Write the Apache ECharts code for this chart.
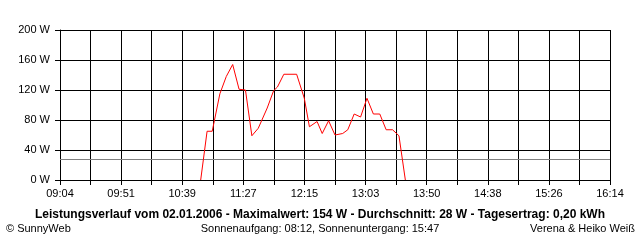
<!DOCTYPE html>
<html><head><meta charset="utf-8">
<script src="https://cdn.jsdelivr.net/npm/echarts@6/dist/echarts.min.js"></script>
<style>html,body{margin:0;padding:0;background:#fff}#c{width:640px;height:240px}</style>
</head><body><div id="c"></div>
<script>
// Data
const times = ["10:54","10:59","11:03","11:09","11:14","11:19","11:24","11:29","11:34","11:39","11:46","11:51","11:54","11:59","12:09","12:15","12:19","12:25","12:29","12:34","12:39","12:45","12:49","12:54","12:59","13:04","13:09","13:14","13:19","13:24","13:29","13:34"];
const watts = [0,65,65,115,138,154,121,120,59,69,96,119,124,141,141,109,71,78,62,79,60,62,67,88,84,109,88,88,67,67,59,0];
const xTickLabels = ["09:04","09:51","10:39","11:27","12:15","13:03","13:50","14:38","15:26","16:14"];
const average = 28;
const titleText = "Leistungsverlauf vom 02.01.2006 - Maximalwert: 154 W - Durchschnitt: 28 W - Tagesertrag: 0,20 kWh";
const leftText = "\u00A9 SunnyWeb";
const midText = "Sonnenaufgang: 08:12, Sonnenuntergang: 15:47";
const rightText = "Verena & Heiko Wei\u00DF";

const startMin = 9*60+4, endMin = 16*60+14, columns = 18;
const colWidth = (endMin - startMin) / columns;
function toCol(t){const p=t.split(':');return (parseInt(p[0])*60+parseInt(p[1])-startMin)/colWidth;}
const seriesData = times.map((t,i)=>[toCol(t), watts[i]]);

const font = "'Liberation Sans', Arial, sans-serif";
const chart = echarts.init(document.getElementById('c'), null, {renderer:'canvas'});
chart.setOption({
  animation:false,
  backgroundColor:'#fff',
  grid:{left:60,right:30,top:30,bottom:60},
  xAxis:{type:'value',min:0,max:columns,interval:1,
    axisLine:{lineStyle:{color:'#000',width:1}},
    axisTick:{show:true,length:5,lineStyle:{color:'#000'}},
    splitLine:{show:true,lineStyle:{color:'#000',width:1}},
    axisLabel:{color:'#000',fontFamily:font,fontSize:11,margin:8,
      formatter:v=>{const r=Math.round(v);return r%2===0?xTickLabels[r/2]:'';}}},
  yAxis:{type:'value',min:0,max:200,interval:40,
    axisLine:{show:true,lineStyle:{color:'#000',width:1}},
    axisTick:{show:true,length:5,lineStyle:{color:'#000'}},
    splitLine:{show:true,lineStyle:{color:'#000',width:1}},
    axisLabel:{color:'#000',fontFamily:font,fontSize:11,margin:10,formatter:'{value} W'}},
  series:[{type:'line',data:seriesData,showSymbol:false,symbol:'none',
    lineStyle:{color:'#ff0000',width:1},z:5,
    markLine:{silent:true,symbol:'none',label:{show:false},
      lineStyle:{color:'#808080',width:1,type:'solid'},data:[{yAxis:average}]}}],
  graphic:[
    {type:'text',left:'center',top:209,style:{text:titleText,font:"bold 12px "+font,fill:'#000'}},
    {type:'text',left:6,top:223,style:{text:leftText,font:"11px "+font,fill:'#000'}},
    {type:'text',left:'center',top:223,style:{text:midText,font:"11px "+font,fill:'#000'}},
    {type:'text',right:5,top:223,style:{text:rightText,font:"11px "+font,fill:'#000'}}
  ]
});
</script></body></html>
